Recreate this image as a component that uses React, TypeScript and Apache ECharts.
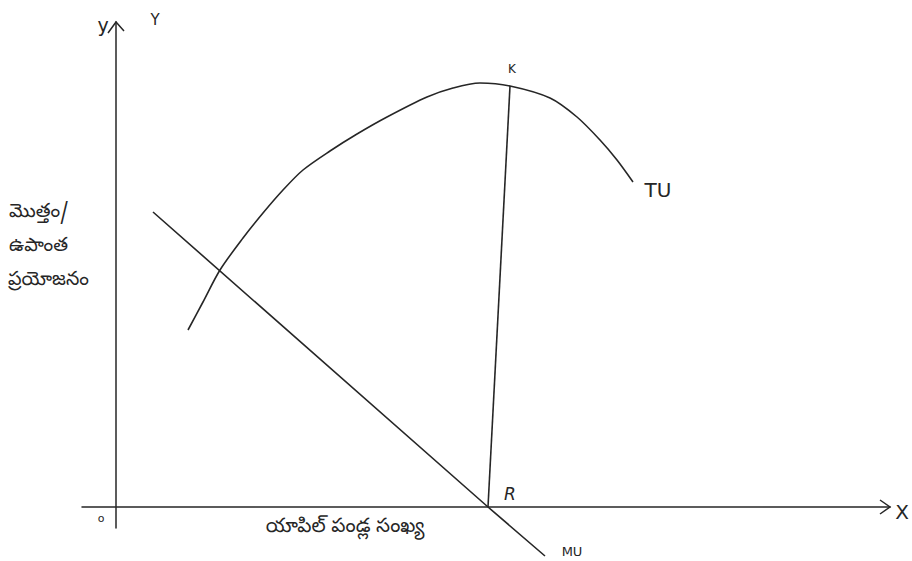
import React, { useEffect, useRef } from "react";
import * as echarts from "echarts";

// Units: x = apples (arbitrary units), y = utility (arbitrary units)
const tuCurve: [number, number][] = [
  [7.2, 17.7], [8.7, 20.5], [10.4, 23.7], [12.7, 26.9], [14.7, 29.4], [16.7, 31.7],
  [18.7, 33.7], [21.4, 35.6], [24.1, 37.3], [27.1, 39.0], [31.1, 41.0], [33.7, 41.9],
  [36.4, 42.4], [39.4, 42.1], [43.4, 40.9], [46.1, 39.0], [48.4, 36.7], [50.1, 34.7],
  [51.7, 32.5],
];
const muLine: [number, number][] = [[3.7, 29.5], [37.2, 0], [42.9, -4.9]];
const krLine: [number, number][] = [[39.4, 42.1], [37.2, 0]];

const yLabelLines = ["మొత్తం/", "ఉపాంత", "ప్రయోజనం"];
const xLabel = "యాపిల్ పండ్ల సంఖ్య";
const curveLabels = { tu: "TU", mu: "MU", k: "K", r: "R" };
const axisLetters = { y1: "y", y2: "Y", x: "X", o: "o" };

const INK = "#262626";
const TEL = '"Noto Sans Telugu", "Noto Sans", sans-serif';
const HAND = '"DejaVu Sans", sans-serif';

export default function App() {
  const ref = useRef<HTMLDivElement>(null);
  useEffect(() => {
    if (!ref.current) return;
    const chart = echarts.init(ref.current, undefined, { renderer: "svg" });
    const lineStyle = { color: INK, width: 1.6 };
    chart.setOption({
      animation: false,
      backgroundColor: "#ffffff",
      grid: { left: 82, right: 22, top: 22, bottom: 33 },
      xAxis: {
        type: "value", min: -3.4, max: 77.4,
        axisLine: { show: true, onZero: true, lineStyle: { color: INK, width: 1.5 } },
        axisTick: { show: false }, axisLabel: { show: false }, splitLine: { show: false },
      },
      yAxis: {
        type: "value", min: -2.1, max: 48.5,
        axisLine: { show: true, onZero: true, lineStyle: { color: INK, width: 1.5 } },
        axisTick: { show: false }, axisLabel: { show: false }, splitLine: { show: false },
      },
      series: [
        { type: "line", data: tuCurve, smooth: 0.3, showSymbol: false, clip: false, lineStyle, itemStyle: { color: INK } },
        { type: "line", data: muLine, showSymbol: false, clip: false, lineStyle, itemStyle: { color: INK } },
        { type: "line", data: krLine, showSymbol: false, clip: false, lineStyle, itemStyle: { color: INK } },
      ],
      graphic: [
        { type: "polyline", shape: { points: [[108, 33], [116, 22], [124, 31]] }, style: { stroke: INK, lineWidth: 1.5, fill: null } },
        { type: "polyline", shape: { points: [[880, 500], [890, 507], [880, 514]] }, style: { stroke: INK, lineWidth: 1.5, fill: null } },
        { type: "text", x: 103, y: 25, style: { text: axisLetters.y1, font: `19px ${HAND}`, fill: INK, align: "center", verticalAlign: "middle" } },
        { type: "text", x: 155, y: 20, style: { text: axisLetters.y2, font: `15px ${HAND}`, fill: INK, align: "center", verticalAlign: "middle" } },
        { type: "text", x: 902, y: 512, style: { text: axisLetters.x, font: `20px ${HAND}`, fill: INK, align: "center", verticalAlign: "middle" } },
        { type: "text", x: 101, y: 518, style: { text: axisLetters.o, font: `11px ${HAND}`, fill: INK, align: "center", verticalAlign: "middle" } },
        { type: "text", x: 512, y: 69, style: { text: curveLabels.k, font: `12px ${HAND}`, fill: INK, align: "center", verticalAlign: "middle" } },
        { type: "text", x: 510, y: 494, style: { text: curveLabels.r, font: `italic 17px ${HAND}`, fill: INK, align: "center", verticalAlign: "middle" } },
        { type: "text", x: 658, y: 190, style: { text: curveLabels.tu, font: `20px ${HAND}`, fill: INK, align: "center", verticalAlign: "middle" } },
        { type: "text", x: 572, y: 551, style: { text: curveLabels.mu, font: `13px ${HAND}`, fill: INK, align: "center", verticalAlign: "middle" } },
        { type: "text", x: 9, y: 213, style: { text: yLabelLines[0], font: `19px ${TEL}`, fill: INK, align: "left", verticalAlign: "middle" } },
        { type: "text", x: 9, y: 247, style: { text: yLabelLines[1], font: `19px ${TEL}`, fill: INK, align: "left", verticalAlign: "middle" } },
        { type: "text", x: 8, y: 281, style: { text: yLabelLines[2], font: `19px ${TEL}`, fill: INK, align: "left", verticalAlign: "middle" } },
        { type: "text", x: 345, y: 528, style: { text: xLabel, font: `20px ${TEL}`, fill: INK, align: "center", verticalAlign: "middle" } },
      ],
    });
    return () => chart.dispose();
  }, []);
  return (
    <div
      ref={ref}
      style={{ position: "fixed", left: 0, top: 0, width: 912, height: 561, background: "#fff" }}
    />
  );
}
